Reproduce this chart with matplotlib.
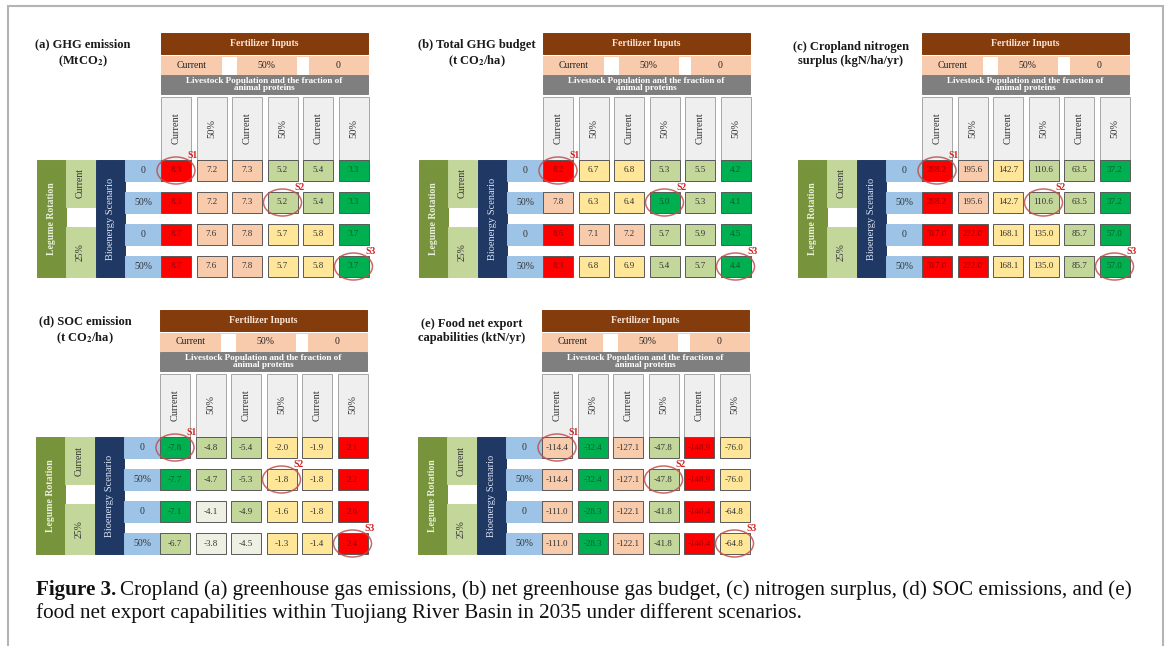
import matplotlib
matplotlib.use("Agg")
import matplotlib.pyplot as plt
from matplotlib.patches import Rectangle, Ellipse

plt.rcParams['font.family'] = ['Liberation Serif', 'DejaVu Serif']
plt.rcParams['mathtext.fontset'] = 'stix'

# ---- data ----
fert_labels = ["Current", "50%", "0"]
col_labels = ["Current", "50%", "Current", "50%", "Current", "50%"]
bio_labels = ["0", "50%", "0", "50%"]
legume_labels = ["Current", "25%"]

ghg_emission = [[8.3, 7.2, 7.3, 5.2, 5.4, 3.3],
                [8.3, 7.2, 7.3, 5.2, 5.4, 3.3],
                [8.7, 7.6, 7.8, 5.7, 5.8, 3.7],
                [8.7, 7.6, 7.8, 5.7, 5.8, 3.7]]
ghg_emission_lvl = [[5, 4, 4, 1, 1, 0],
                    [5, 4, 4, 1, 1, 0],
                    [5, 4, 4, 3, 3, 0],
                    [5, 4, 4, 3, 3, 0]]

ghg_budget = [[8.2, 6.7, 6.8, 5.3, 5.5, 4.2],
              [7.8, 6.3, 6.4, 5.0, 5.3, 4.1],
              [8.6, 7.1, 7.2, 5.7, 5.9, 4.5],
              [8.3, 6.8, 6.9, 5.4, 5.7, 4.4]]
ghg_budget_lvl = [[5, 3, 3, 1, 1, 0],
                  [4, 3, 3, 0, 1, 0],
                  [5, 4, 4, 1, 1, 0],
                  [5, 3, 3, 1, 1, 0]]

n_surplus = [[288.2, 195.6, 142.7, 110.6, 63.5, 37.2],
             [288.2, 195.6, 142.7, 110.6, 63.5, 37.2],
             [317.0, 222.0, 168.1, 135.0, 85.7, 57.0],
             [317.0, 222.0, 168.1, 135.0, 85.7, 57.0]]
n_surplus_lvl = [[5, 4, 3, 1, 1, 0],
                 [5, 4, 3, 1, 1, 0],
                 [5, 5, 3, 3, 1, 0],
                 [5, 5, 3, 3, 1, 0]]

soc_emission = [[-7.8, -4.8, -5.4, -2.0, -1.9, 2.1],
                [-7.7, -4.7, -5.3, -1.8, -1.8, 2.2],
                [-7.1, -4.1, -4.9, -1.6, -1.8, 2.6],
                [-6.7, -3.8, -4.5, -1.3, -1.4, 2.4]]
soc_emission_lvl = [[0, 1, 1, 3, 3, 5],
                    [0, 1, 1, 3, 3, 5],
                    [0, 2, 1, 3, 3, 5],
                    [1, 2, 2, 3, 3, 5]]

food_export = [[-114.4, -32.4, -127.1, -47.8, -148.9, -76.0],
               [-114.4, -32.4, -127.1, -47.8, -148.9, -76.0],
               [-111.0, -28.3, -122.1, -41.8, -140.4, -64.8],
               [-111.0, -28.3, -122.1, -41.8, -140.4, -64.8]]
food_export_lvl = [[4, 0, 4, 1, 5, 3],
                   [4, 0, 4, 1, 5, 3],
                   [4, 0, 4, 1, 5, 3],
                   [4, 0, 4, 1, 5, 3]]

highlights = [("S1", 0, 0), ("S2", 1, 3), ("S3", 3, 5)]

titles = [r"(a) GHG emission" + "\n" + r"(MtCO$_\mathbf{2}$)",
          r"(b) Total GHG budget" + "\n" + r"(t CO$_\mathbf{2}$/ha)",
          "(c) Cropland nitrogen\nsurplus (kgN/ha/yr)",
          r"(d) SOC emission" + "\n" + r"(t CO$_\mathbf{2}$/ha)",
          "(e) Food net export\ncapabilities (ktN/yr)"]
panels = [(ghg_emission, ghg_emission_lvl), (ghg_budget, ghg_budget_lvl),
          (n_surplus, n_surplus_lvl), (soc_emission, soc_emission_lvl),
          (food_export, food_export_lvl)]

# ---- layout (pixels) ----
origins = [(161, 33), (543, 33), (922, 33), (160, 310), (542, 310)]
title_dx = [-78, -66, -71, -75, -70]
fill = {0: "#00b050", 1: "#c4d79b", 2: "#eef0e4", 3: "#ffe699", 4: "#f8cbad", 5: "#ff0000"}
txtc = {0: "#0b5d2a", 1: "#333333", 2: "#333333", 3: "#333333", 4: "#333333", 5: "#9c0006"}
edge = "#595959"
cw, pitch, rh, rpitch = 30, 35.5, 21, 32
hdr_w = 207

fig = plt.figure(figsize=(11.68, 6.46), dpi=100)
ax = fig.add_axes([0, 0, 1, 1])
ax.set_xlim(0, 1168)
ax.set_ylim(646, 0)
ax.axis("off")


def box(x, y, w, h, fc, ec=edge, lw=0.7):
    ax.add_patch(Rectangle((x, y), w, h, facecolor=fc, edgecolor=ec, linewidth=lw))


def draw_panel(x0, y0, vals, lvls, title, tdx):
    ax.text(x0 + tdx, y0 + 21, title, ha="center", va="center", fontsize=9,
            fontweight="bold", linespacing=1.3, color="#1a1a1a")
    # fertilizer header
    box(x0, y0, hdr_w, 21, "#843c0c", ec="#843c0c")
    ax.text(x0 + hdr_w / 2, y0 + 10.5, "Fertilizer Inputs", ha="center", va="center",
            fontsize=7, fontweight="bold", color="#fbe5d6")
    box(x0, y0 + 23, hdr_w, 18, "#f8cbad", ec="#f8cbad")
    fert_x = [(0, 61), (75, 61), (147, 60)]
    for (fx, fw), lab in zip(fert_x, fert_labels):
        ax.text(x0 + fx + fw / 2, y0 + 32, lab, ha="center", va="center", fontsize=7,
                color="#222222")
    box(x0 + 61, y0 + 23.5, 14, 17, "white", ec="white")
    box(x0 + 136, y0 + 23.5, 11, 17, "white", ec="white")
    box(x0, y0 + 42, hdr_w, 19, "#7f7f7f", ec="#7f7f7f")
    ax.text(x0 + hdr_w / 2, y0 + 51.5, "Livestock Population and the fraction of\nanimal proteins",
            ha="center", va="center", fontsize=6.6, fontweight="bold", color="white",
            linespacing=0.8)
    # column headers
    for j, lab in enumerate(col_labels):
        cx = x0 + j * pitch
        box(cx, y0 + 64, cw, 63, "#efefef", ec="#a6a6a6")
        ax.text(cx + cw / 2, y0 + 95, lab, ha="center", va="center", rotation=90,
                fontsize=7.5, color="#333333")
    top = y0 + 127
    bottom = top + 3 * rpitch + rh
    # row headers
    box(x0 - 124, top, 29, bottom - top, "#77933c", ec="#77933c")
    ax.text(x0 - 109.5, (top + bottom) / 2, "Legume Rotation", ha="center", va="center",
            rotation=90, fontsize=7, fontweight="bold", color="#ebf1de")
    split = top + rpitch + rh - 6
    box(x0 - 95, top, 29, split - top, "#c4d79b", ec="#c4d79b")
    box(x0 - 95, split + 20, 29, bottom - split - 20, "#c4d79b", ec="#c4d79b")
    ax.text(x0 - 80.5, (top + split) / 2, legume_labels[0], ha="center", va="center",
            rotation=90, fontsize=7, color="#333333")
    ax.text(x0 - 80.5, (split + 20 + bottom) / 2, legume_labels[1], ha="center", va="center",
            rotation=90, fontsize=7, color="#333333")
    box(x0 - 65, top, 29, bottom - top, "#203864", ec="#203864")
    ax.text(x0 - 50.5, (top + bottom) / 2, "Bioenergy Scenario", ha="center", va="center",
            rotation=90, fontsize=7.5, color="#dae3f3")
    # data cells
    for i in range(len(vals)):
        ry = top + i * rpitch
        box(x0 - 36, ry, 36, rh, "#9dc3e6", ec="#9dc3e6")
        ax.text(x0 - 18, ry + rh / 2, bio_labels[i], ha="center", va="center", fontsize=7,
                color="#333333")
        for j, v in enumerate(vals[i]):
            cx = x0 + j * pitch
            lv = lvls[i][j]
            box(cx, ry, cw, rh, fill[lv])
            ax.text(cx + cw / 2, ry + rh / 2, f"{v:.1f}", ha="center", va="center",
                    fontsize=6.5, color=txtc[lv])
    # highlighted scenarios
    for lab, i, j in highlights:
        ex = x0 + j * pitch + cw / 2
        ey = top + i * rpitch + rh / 2
        ax.add_patch(Ellipse((ex, ey), 38, 27, facecolor="none", edgecolor="#c0504d",
                             linewidth=1.1, alpha=0.85))
        ax.text(ex + 17, ey - 15, lab, ha="center", va="center", fontsize=7,
                fontweight="bold", color="#d02020")


for (x0, y0), (vals, lvls), title, tdx in zip(origins, panels, titles, title_dx):
    draw_panel(x0, y0, vals, lvls, title, tdx)

# frame
ax.plot([8, 8, 1163, 1163], [646, 6, 6, 646], color="#b4b4b4", linewidth=1.5,
        solid_joinstyle="miter")

# caption
cap_size = 15.2
t1 = ax.text(36, 590, "Figure 3.", ha="left", va="center", fontsize=cap_size,
             fontweight="bold", color="#111111")
fig.canvas.draw()
bb = t1.get_window_extent(fig.canvas.get_renderer())
ax.text(bb.x1 + 4, 590, "Cropland (a) greenhouse gas emissions, (b) net greenhouse gas budget, "
        "(c) nitrogen surplus, (d) SOC emissions, and (e)", ha="left", va="center",
        fontsize=cap_size, color="#111111")
ax.text(36, 613, "food net export capabilities within Tuojiang River Basin in 2035 under "
        "different scenarios.", ha="left", va="center", fontsize=cap_size, color="#111111")

fig.savefig("out.png", dpi=100)
